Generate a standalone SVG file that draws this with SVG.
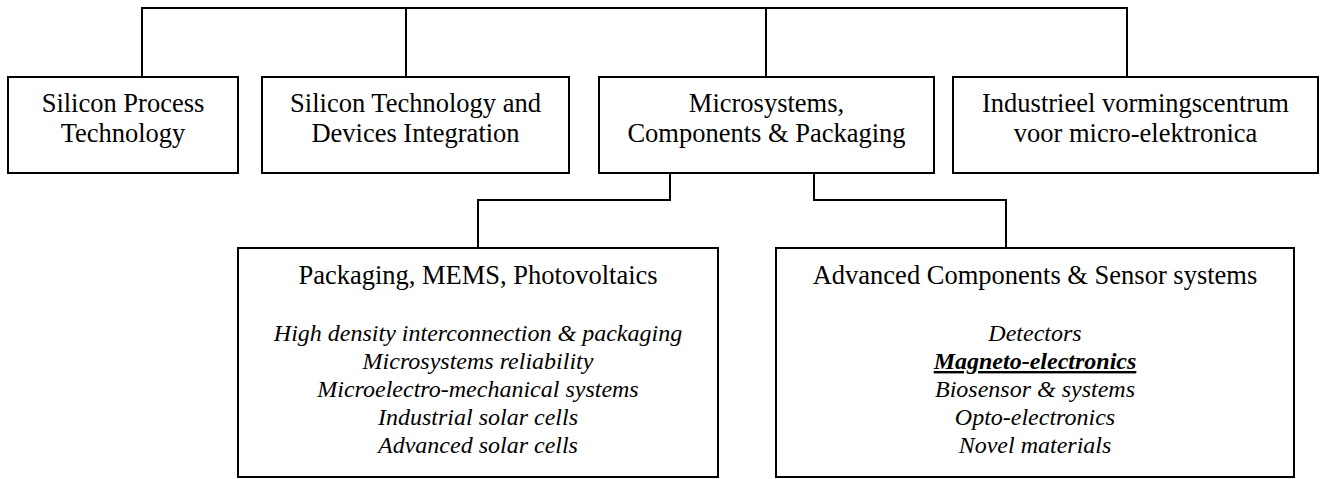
<svg xmlns="http://www.w3.org/2000/svg" width="1320" height="479" viewBox="0 0 1320 479">
<style>
  .box { fill: #ffffff; stroke: #000000; stroke-width: 2; }
  .conn { fill: none; stroke: #000000; stroke-width: 2; }
  .t { font-family: "Liberation Serif", "Times New Roman", serif; font-size: 26.5px; fill: #000000; text-anchor: middle; }
  .it { font-family: "Liberation Serif", "Times New Roman", serif; font-size: 24px; font-style: italic; fill: #000000; text-anchor: middle; }
  .bi { font-weight: bold; text-decoration: underline; }
</style>
<rect width="1320" height="479" fill="#ffffff"/>
<g id="connectors">
  <polyline class="conn" points="142,77 142,8 1127,8 1127,77"/>
  <line class="conn" x1="406" y1="8" x2="406" y2="77"/>
  <line class="conn" x1="766" y1="8" x2="766" y2="77"/>
  <polyline class="conn" points="670,173 670,200 478,200 478,248"/>
  <polyline class="conn" points="814,173 814,200 1006,200 1006,248"/>
</g>
<g id="node-silicon-process">
  <rect class="box" x="8" y="77" width="230" height="96"/>
  <text class="t" x="123" y="112">Silicon Process</text>
  <text class="t" x="123" y="142">Technology</text>
</g>
<g id="node-silicon-technology">
  <rect class="box" x="262" y="77" width="307" height="96"/>
  <text class="t" x="415.5" y="112">Silicon Technology and</text>
  <text class="t" x="415.5" y="142">Devices Integration</text>
</g>
<g id="node-microsystems">
  <rect class="box" x="599" y="77" width="335" height="96"/>
  <text class="t" x="766.5" y="112">Microsystems,</text>
  <text class="t" x="766.5" y="142">Components &amp; Packaging</text>
</g>
<g id="node-industrieel">
  <rect class="box" x="953" y="77" width="365" height="96"/>
  <text class="t" x="1135.5" y="112">Industrieel vormingscentrum</text>
  <text class="t" x="1135.5" y="142">voor micro-elektronica</text>
</g>
<g id="node-packaging">
  <rect class="box" x="238" y="248" width="480" height="229"/>
  <text class="t" x="478" y="284">Packaging, MEMS, Photovoltaics</text>
  <text class="it" x="478" y="341">High density interconnection &amp; packaging</text>
  <text class="it" x="478" y="369">Microsystems reliability</text>
  <text class="it" x="478" y="397">Microelectro-mechanical systems</text>
  <text class="it" x="478" y="425">Industrial solar cells</text>
  <text class="it" x="478" y="453">Advanced solar cells</text>
</g>
<g id="node-advanced">
  <rect class="box" x="776" y="248" width="518" height="229"/>
  <text class="t" x="1035" y="284">Advanced Components &amp; Sensor systems</text>
  <text class="it" x="1035" y="341">Detectors</text>
  <text class="it bi" x="1035" y="369">Magneto-electronics</text>
  <text class="it" x="1035" y="397">Biosensor &amp; systems</text>
  <text class="it" x="1035" y="425">Opto-electronics</text>
  <text class="it" x="1035" y="453">Novel materials</text>
</g>
</svg>
